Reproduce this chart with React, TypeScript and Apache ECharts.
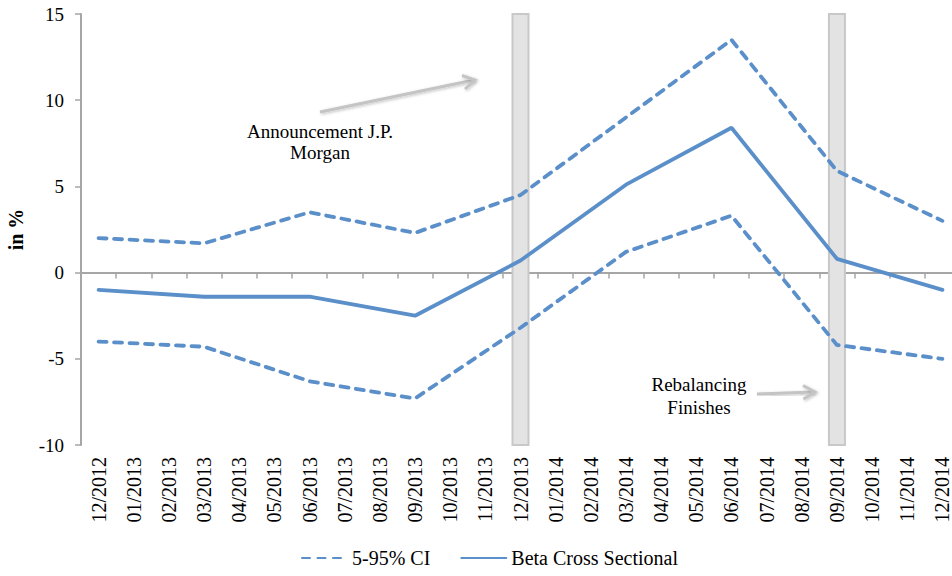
import React, { useEffect, useRef } from "react";
import * as echarts from "echarts";

const months = [
  "12/2012", "01/2013", "02/2013", "03/2013", "04/2013", "05/2013", "06/2013",
  "07/2013", "08/2013", "09/2013", "10/2013", "11/2013", "12/2013", "01/2014",
  "02/2014", "03/2014", "04/2014", "05/2014", "06/2014", "07/2014", "08/2014",
  "09/2014", "10/2014", "11/2014", "12/2014",
];

// quarterly observations (other months have no observation)
const upperCI = [2.0, null, null, 1.7, null, null, 3.5, null, null, 2.3, null, null, 4.5, null, null, 9.0, null, null, 13.5, null, null, 5.9, null, null, 3.0];
const beta = [-1.0, null, null, -1.4, null, null, -1.4, null, null, -2.5, null, null, 0.7, null, null, 5.1, null, null, 8.4, null, null, 0.8, null, null, -1.0];
const lowerCI = [-4.0, null, null, -4.3, null, null, -6.3, null, null, -7.3, null, null, -3.2, null, null, 1.2, null, null, 3.3, null, null, -4.2, null, null, -5.0];

const shadedMonths = ["12/2013", "09/2014"];
const yMin = -10;
const yMax = 15;

const FONT = "Liberation Serif";
const BLUE = "#5b8fc9";

export default function App() {
  const ref = useRef<HTMLDivElement>(null);

  useEffect(() => {
    if (!ref.current) return;
    const chart = echarts.init(ref.current, undefined, { renderer: "svg" });

    const dashStyle = { color: BLUE, width: 3.8, type: [8, 7.5] as any, cap: "round" as any };
    const arrowStyle = {
      stroke: "#c4c4c4",
      lineWidth: 3,
      fill: "none",
      shadowBlur: 3,
      shadowColor: "rgba(0,0,0,0.25)",
      shadowOffsetX: 1,
      shadowOffsetY: 1,
    };

    chart.setOption({
      animation: false,
      textStyle: { fontFamily: FONT, color: "#000" },
      grid: {
        left: 81,
        width: 879,
        top: 14,
        bottom: 131,
        containLabel: false,
        outerBoundsMode: "none",
      },
      legend: {
        data: ["5-95% CI", "Beta Cross Sectional"],
        bottom: 3,
        left: 296,
        itemWidth: 45,
        itemHeight: 12,
        itemGap: 30,
        itemStyle: { opacity: 0 },
        textStyle: { fontFamily: FONT, fontSize: 20, color: "#000" },
      },
      xAxis: [
        {
          type: "category",
          data: months,
          position: "bottom",
          boundaryGap: true,
          axisLine: { show: false, onZero: false },
          axisTick: { show: false },
          axisLabel: {
            rotate: 90,
            interval: 0,
            margin: 12,
            fontSize: 20,
            fontFamily: FONT,
            color: "#000",
          },
          splitLine: { show: false },
        },
        {
          type: "category",
          data: months,
          position: "bottom",
          boundaryGap: true,
          axisLine: { show: true, onZero: true, lineStyle: { color: "#a6a6a6", width: 2 } },
          axisTick: { show: true, interval: 0, length: 6, lineStyle: { color: "#a6a6a6", width: 1.5 } },
          axisLabel: { show: false },
          splitLine: { show: false },
        },
      ],
      yAxis: {
        type: "value",
        min: yMin,
        max: yMax,
        interval: 5,
        name: "in %",
        nameLocation: "middle",
        nameGap: 55,
        nameTextStyle: { fontFamily: FONT, fontSize: 20, fontWeight: "bold", color: "#000" },
        axisLine: { show: true, lineStyle: { color: "#a6a6a6", width: 2 } },
        axisTick: { show: true, length: 6, lineStyle: { color: "#a6a6a6", width: 1.5 } },
        axisLabel: { fontSize: 19, fontFamily: FONT, color: "#000", margin: 17 },
        splitLine: { show: false },
      },
      series: [
        {
          type: "custom",
          name: "shade",
          xAxisIndex: 0,
          z: 1,
          silent: true,
          data: shadedMonths.map((m) => [m]),
          encode: { x: 0 },
          renderItem: (params: any, api: any) => {
            const idx = api.value(0);
            const top = api.coord([idx, yMax]);
            const bot = api.coord([idx, yMin]);
            return {
              type: "rect",
              shape: { x: top[0] - 8, y: top[1], width: 16, height: bot[1] - top[1] },
              style: { fill: "#e3e3e3", stroke: "#c8c8c8", lineWidth: 2 },
            };
          },
        },
        {
          type: "line",
          name: "5-95% CI",
          data: upperCI,
          connectNulls: true,
          showSymbol: false,
          symbol: "none",
          z: 3,
          lineStyle: dashStyle,
          itemStyle: { color: BLUE },
        },
        {
          type: "line",
          name: "5-95% CI",
          data: lowerCI,
          connectNulls: true,
          showSymbol: false,
          symbol: "none",
          z: 3,
          lineStyle: dashStyle,
          itemStyle: { color: BLUE },
        },
        {
          type: "line",
          name: "Beta Cross Sectional",
          data: beta,
          connectNulls: true,
          showSymbol: false,
          symbol: "none",
          z: 3,
          lineStyle: { color: BLUE, width: 3.8, cap: "round" },
          itemStyle: { color: BLUE },
        },
      ],
      graphic: [
        {
          type: "line",
          z: 10,
          shape: { x1: 320, y1: 112, x2: 474, y2: 80 },
          style: arrowStyle,
        },
        {
          type: "polyline",
          z: 10,
          shape: { points: [[462, 75.5], [475, 80], [465, 89]] },
          style: arrowStyle,
        },
        {
          type: "text",
          z: 10,
          x: 320,
          y: 142,
          style: {
            text: "Announcement J.P.\nMorgan",
            fontFamily: FONT,
            fontSize: 19,
            lineHeight: 21,
            fill: "#000",
            align: "center",
            verticalAlign: "middle",
          },
        },
        {
          type: "line",
          z: 10,
          shape: { x1: 757, y1: 394, x2: 814, y2: 392 },
          style: arrowStyle,
        },
        {
          type: "polyline",
          z: 10,
          shape: { points: [[803, 385.5], [815, 392], [803.5, 399]] },
          style: arrowStyle,
        },
        {
          type: "text",
          z: 10,
          x: 699,
          y: 396,
          style: {
            text: "Rebalancing\nFinishes",
            fontFamily: FONT,
            fontSize: 19,
            lineHeight: 23,
            fill: "#000",
            align: "center",
            verticalAlign: "middle",
          },
        },
      ],
    });

    return () => chart.dispose();
  }, []);

  return (
    <div
      ref={ref}
      style={{ position: "fixed", left: 0, top: 0, width: 952, height: 576, background: "#fff" }}
    />
  );
}
